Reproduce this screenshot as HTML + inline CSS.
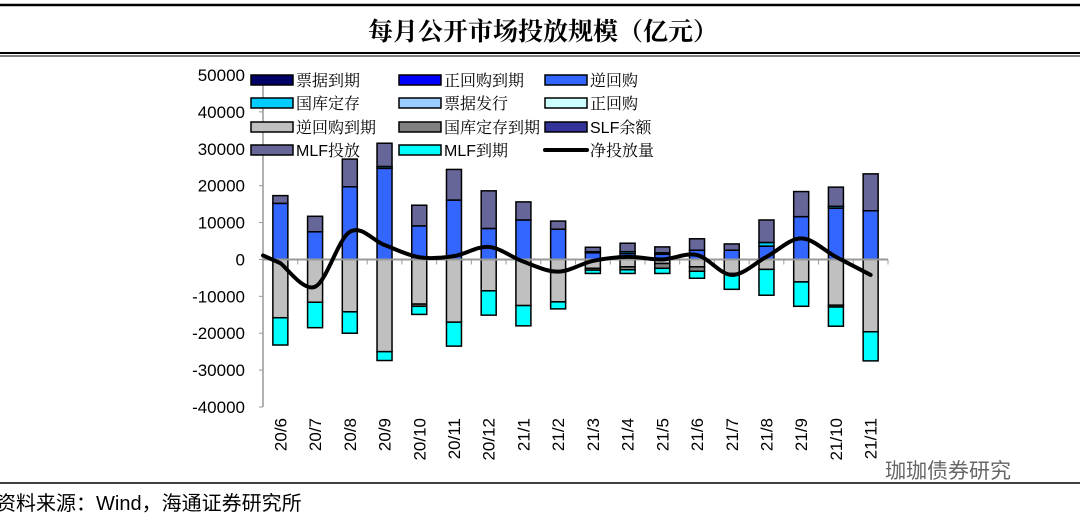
<!DOCTYPE html>
<html><head><meta charset="utf-8"><style>
body{margin:0;background:#fff;width:1080px;height:520px;overflow:hidden}
svg text{font-family:"Liberation Sans","Noto Sans CJK SC",sans-serif}
.cj{font-family:"Liberation Sans","Noto Serif CJK SC",serif}
</style></head><body>
<svg id="c" width="1080" height="520">
<line x1="0" y1="5" x2="1080" y2="5" stroke="#000" stroke-width="2.5"/>
<text x="543" y="40" text-anchor="middle" class="cj" font-size="25" font-weight="bold">每月公开市场投放规模（亿元）</text>
<line x1="0" y1="53" x2="1080" y2="53" stroke="#000" stroke-width="2"/>
<line x1="0" y1="56" x2="1080" y2="56" stroke="#000" stroke-width="1"/>
<line x1="0" y1="483" x2="1080" y2="483" stroke="#000" stroke-width="1.5"/>
<text x="-4" y="510" font-size="20">资料来源：Wind，海通证券研究所</text>
<text x="885" y="478" font-size="21" fill="#666">珈珈债券研究</text>
<g id="plot"></g>
<g id="legend"></g>
</svg>
<script>
const categories=["20/6","20/7","20/8","20/9","20/10","20/11","20/12","21/1","21/2","21/3","21/4","21/5","21/6","21/7","21/8","21/9","21/10","21/11"];
const reverseRepo=[15200,7500,19700,24700,9100,16100,8400,10700,8200,1800,1600,1400,2500,2500,3600,11600,13900,13200];
const treasuryDeposit=[0,0,0,500,0,0,0,0,0,300,500,400,0,0,1000,0,500,0];
const mlfInjection=[2100,4200,7500,6300,5600,8300,10200,4900,2200,1200,2300,1600,3100,1700,6100,6800,5200,10000];
const reverseRepoMaturity=[-15800,-11600,-14200,-25000,-12100,-17000,-8500,-12500,-11500,-2400,-2000,-1100,-2000,-3800,-2700,-6100,-12400,-19600];
const treasuryMaturity=[0,0,0,0,-600,0,0,0,0,-500,-800,-1300,-1200,0,0,0,-500,0];
const mlfMaturity=[-7400,-6900,-5800,-2400,-2200,-6500,-6600,-5500,-1900,-900,-1000,-1400,-1900,-4300,-7000,-6600,-5200,-7900];
const netInjection=[-1000,-7400,7500,3900,600,900,3400,-600,-3300,-400,700,0,1200,-4200,700,5700,700,-4200];
const yTicks=[50000,40000,30000,20000,10000,0,-10000,-20000,-30000,-40000];
const NS="http://www.w3.org/2000/svg";
const plot=document.getElementById('plot');
const X0=263,X1=888,Y0=75,Y1=407,vmax=50000,vmin=-40000;
const y=v=>Y0+(vmax-v)*(Y1-Y0)/(vmax-vmin);
const step=(X1-X0)/categories.length;
const x=i=>X0+step*(i+0.5);
function mk(t,a,p){const e=document.createElementNS(NS,t);for(const k in a)e.setAttribute(k,a[k]);(p||plot).appendChild(e);return e;}
let ax=mk('line',{x1:X0,y1:Y0,x2:X0,y2:Y1,stroke:'#999','stroke-width':1.5});


yTicks.forEach(t=>{
 const l=mk('line',{x1:X0-4,y1:y(t),x2:X0,y2:y(t),stroke:'#999'});
 
 
 const tx=mk('text',{x:245,y:y(t)+6,'text-anchor':'end','font-size':17});tx.textContent=t;
 
 
});
const series=[[reverseRepo,'#3366ff'],[treasuryDeposit,'#00ccff'],[mlfInjection,'#666699']];
const negs=[[reverseRepoMaturity,'#c0c0c0'],[treasuryMaturity,'#808080'],[mlfMaturity,'#00ffff']];
const bw=15;
categories.forEach((c,i)=>{
 let acc=0;
 series.forEach(([arr,col])=>{const v=arr[i];if(!v)return;
  const r=mk('rect',{x:x(i)-bw/2,y:y(acc+v),width:bw,height:y(acc)-y(acc+v),fill:col,stroke:'#000','stroke-width':1.5});
  
  
  acc+=v;});
 acc=0;
 negs.forEach(([arr,col])=>{const v=arr[i];if(!v)return;
  const r=mk('rect',{x:x(i)-bw/2,y:y(acc),width:bw,height:y(acc+v)-y(acc),fill:col,stroke:'#000','stroke-width':1.5});
  
  
  acc+=v;});
 const tx=mk('text',{transform:`translate(${x(i)+6},418) rotate(-90)`,'text-anchor':'end','font-size':17});tx.textContent=c;
 
 
});
let zl=mk('line',{x1:X0,y1:y(0),x2:X1,y2:y(0),stroke:'#999','stroke-width':2});


for(let i=0;i<=categories.length;i++){const t=mk('line',{x1:X0+step*i,y1:y(0),x2:X0+step*i,y2:y(0)+5,stroke:'#999'});
 
 }
const pts=netInjection.map((v,i)=>[x(i),y(v)]);
let d=`M${X0},${y(0)-4} L${pts[0][0]},${pts[0][1]}`;
for(let i=0;i<pts.length-1;i++){const p0=pts[i-1]||pts[i],p1=pts[i],p2=pts[i+1],p3=pts[i+2]||p2;
 d+=` C${p1[0]+(p2[0]-p0[0])/6},${p1[1]+(p2[1]-p0[1])/6} ${p2[0]-(p3[0]-p1[0])/6},${p2[1]-(p3[1]-p1[1])/6} ${p2[0]},${p2[1]}`;}
const ln=mk('path',{d:d,fill:'none',stroke:'#000','stroke-width':4,'stroke-linejoin':'round','stroke-linecap':'round'});


const lg=document.getElementById('legend');
const items=[['票据到期','#000066'],['正回购到期','#0000ff'],['逆回购','#3366ff'],['国库定存','#00ccff'],['票据发行','#99ccff'],['正回购','#ccffff'],['逆回购到期','#c0c0c0'],['国库定存到期','#808080'],['SLF余额','#333399'],['MLF投放','#666699'],['MLF到期','#00ffff'],['净投放量','line']];
const cx=[251,399,545],ry=[80,103,127,150];
items.forEach((it,k)=>{const c=k%3,r=Math.floor(k/3);const g=mk('g',{},lg);
 
 
 if(it[1]==='line')mk('line',{x1:cx[c],y1:ry[r],x2:cx[c]+42,y2:ry[r],stroke:'#000','stroke-width':4,'stroke-linecap':'round'},g);
 else mk('rect',{x:cx[c],y:ry[r]-5,width:42,height:10,fill:it[1],stroke:'#000','stroke-width':1.5},g);
 const t=mk('text',{x:cx[c]+45,y:ry[r]+6,'font-size':16,class:'cj'},g);t.textContent=it[0];});
</script>
</body></html>
